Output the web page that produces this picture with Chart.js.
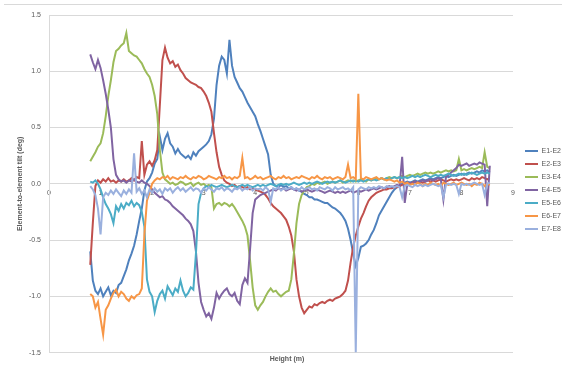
<!DOCTYPE html>
<html><head><meta charset="utf-8">
<script src="https://cdn.jsdelivr.net/npm/chart.js@4"></script>
<style>
html,body{margin:0;padding:0;background:#fff}
#wrap{position:relative;width:562px;height:369px}
#edge{position:absolute;left:4px;right:0;top:4px;border-top:1px solid #d9d9d9}
</style>
</head><body>
<div id="wrap"><div id="edge"></div><canvas id="c"></canvas></div>
<script>
// Height (m) of each sample
const heights = [
0.80,0.85,0.90,0.95,1.00,1.05,1.10,1.15,1.20,1.25,
1.30,1.35,1.40,1.45,1.50,1.55,1.60,1.65,1.70,1.75,
1.80,1.85,1.90,1.95,2.00,2.05,2.10,2.15,2.20,2.25,
2.30,2.35,2.40,2.45,2.50,2.55,2.60,2.65,2.70,2.75,
2.80,2.85,2.90,2.95,3.00,3.05,3.10,3.15,3.20,3.25,
3.30,3.35,3.40,3.45,3.50,3.55,3.60,3.65,3.70,3.75,
3.80,3.85,3.90,3.95,4.00,4.05,4.10,4.15,4.20,4.25,
4.30,4.35,4.40,4.45,4.50,4.55,4.60,4.65,4.70,4.75,
4.80,4.85,4.90,4.95,5.00,5.05,5.10,5.15,5.20,5.25,
5.30,5.35,5.40,5.45,5.50,5.55,5.60,5.65,5.70,5.75,
5.80,5.85,5.90,5.95,6.00,6.05,6.10,6.15,6.20,6.25,
6.30,6.35,6.40,6.45,6.50,6.55,6.60,6.65,6.70,6.75,
6.80,6.85,6.90,6.95,7.00,7.05,7.10,7.15,7.20,7.25,
7.30,7.35,7.40,7.45,7.50,7.55,7.60,7.65,7.70,7.75,
7.80,7.85,7.90,7.95,8.00,8.05,8.10,8.15,8.20,8.25,
8.30,8.35,8.40,8.45,8.50,8.55];

const seriesNames = ['E1-E2','E2-E3','E3-E4','E4-E5','E5-E6','E6-E7','E7-E8'];

const tiltE1E2 = [
-0.60,-0.86,-0.95,-0.98,-0.93,-1.00,-0.96,-0.92,-0.99,-0.95,
-0.97,-0.90,-0.88,-0.82,-0.76,-0.68,-0.62,-0.55,-0.45,-0.33,
-0.22,-0.06,0.02,0.05,0.10,0.18,0.22,0.42,0.30,0.40,
0.45,0.36,0.33,0.27,0.31,0.27,0.25,0.23,0.25,0.22,
0.28,0.25,0.29,0.31,0.33,0.35,0.38,0.44,0.58,0.88,
1.05,1.13,1.10,0.98,1.28,1.05,0.95,0.90,0.85,0.82,
0.77,0.72,0.68,0.64,0.60,0.53,0.47,0.40,0.33,0.26,
0.08,0.00,-0.02,-0.03,-0.01,-0.03,-0.02,-0.04,-0.03,-0.05,
-0.04,-0.06,-0.07,-0.09,-0.10,-0.12,-0.12,-0.14,-0.14,-0.15,
-0.16,-0.17,-0.17,-0.19,-0.21,-0.22,-0.24,-0.26,-0.29,-0.33,
-0.40,-0.50,-0.62,-0.73,-0.66,-0.56,-0.55,-0.53,-0.50,-0.45,
-0.41,-0.35,-0.28,-0.24,-0.20,-0.16,-0.12,-0.08,-0.05,-0.03,
-0.02,0.00,0.01,0.02,0.01,0.02,0.03,0.02,0.03,0.04,
0.03,0.04,0.05,0.04,0.05,0.06,0.05,0.06,0.07,0.06,
0.07,0.08,0.07,0.08,0.09,0.08,0.09,0.10,0.09,0.10,
0.11,0.10,0.12,0.11,0.12,0.10];

const tiltE2E3 = [
-0.72,-0.35,-0.02,0.03,0.01,0.04,0.02,0.05,0.02,0.03,
0.01,0.03,0.02,0.04,0.02,0.03,0.05,0.03,0.06,0.05,
0.38,0.08,0.17,0.20,0.16,0.21,0.30,0.70,1.10,1.21,
1.12,1.07,1.09,1.04,1.06,1.01,0.98,0.94,0.92,0.90,
0.89,0.88,0.86,0.85,0.82,0.78,0.72,0.64,0.45,0.28,
0.15,0.08,0.03,0.01,0.00,-0.02,-0.01,-0.03,-0.02,-0.03,
-0.04,-0.03,-0.05,-0.04,-0.05,-0.06,-0.07,-0.08,-0.10,-0.13,
-0.17,-0.20,-0.22,-0.24,-0.26,-0.29,-0.32,-0.38,-0.46,-0.60,
-0.85,-1.00,-1.10,-1.15,-1.12,-1.09,-1.10,-1.07,-1.08,-1.06,
-1.05,-1.06,-1.04,-1.03,-1.04,-1.02,-1.01,-1.00,-0.98,-0.95,
-0.86,-0.70,-0.56,-0.46,-0.38,-0.31,-0.26,-0.20,-0.15,-0.12,
-0.10,-0.08,-0.07,-0.06,-0.05,-0.05,-0.04,-0.04,-0.03,-0.03,
-0.02,-0.01,0.00,0.01,0.00,0.01,0.02,0.01,0.02,0.01,
0.02,0.03,0.02,0.03,0.02,0.03,0.04,0.03,0.02,0.03,
0.04,0.03,0.04,0.03,0.04,0.05,0.04,0.03,0.05,0.04,
0.05,0.04,0.06,0.05,0.04,0.05];

const tiltE3E4 = [
0.20,0.24,0.28,0.33,0.36,0.45,0.60,0.78,0.92,1.08,
1.18,1.20,1.23,1.25,1.34,1.18,1.16,1.14,1.13,1.10,
1.07,1.02,0.98,0.95,0.88,0.78,0.62,0.30,0.10,0.04,
0.02,0.00,0.01,-0.01,0.00,0.02,0.01,-0.01,0.00,0.01,
-0.02,0.00,0.01,-0.01,0.00,-0.02,-0.01,-0.03,-0.22,-0.18,
-0.17,-0.19,-0.17,-0.18,-0.20,-0.18,-0.21,-0.25,-0.29,-0.33,
-0.38,-0.46,-0.68,-0.92,-1.08,-1.12,-1.08,-1.05,-1.00,-0.96,
-0.93,-0.96,-0.95,-0.98,-1.00,-0.98,-0.96,-0.95,-0.85,-0.62,
-0.35,-0.18,-0.10,-0.06,-0.03,-0.02,0.00,-0.01,0.01,0.00,
0.01,0.02,0.00,0.01,0.02,0.01,0.02,0.03,0.01,0.02,
0.03,0.02,0.03,0.02,0.03,0.04,0.03,0.02,0.04,0.03,
0.04,0.05,0.04,0.05,0.04,0.05,0.06,0.05,0.06,0.05,
0.06,0.07,0.06,0.07,0.08,0.07,0.08,0.09,0.08,0.09,
0.10,0.09,0.10,0.09,0.10,0.11,0.10,0.11,0.12,0.11,
0.12,0.11,0.12,0.22,0.12,0.13,0.12,0.13,0.14,0.13,
0.14,0.15,0.14,0.28,0.15,0.14];

const tiltE4E5 = [
1.15,1.08,1.02,1.10,1.03,0.92,0.80,0.66,0.50,0.22,
0.08,0.04,0.02,0.03,0.01,0.03,0.02,0.04,0.02,0.01,
0.03,0.01,0.00,-0.02,-0.05,-0.08,-0.10,-0.12,-0.11,-0.14,
-0.15,-0.17,-0.20,-0.22,-0.24,-0.26,-0.28,-0.31,-0.33,-0.36,
-0.42,-0.60,-0.88,-1.05,-1.12,-1.18,-1.15,-1.20,-1.10,-0.97,
-1.02,-0.98,-0.95,-0.93,-0.98,-1.00,-0.97,-1.04,-1.07,-0.90,
-0.84,-0.88,-0.58,-0.26,-0.14,-0.12,-0.10,-0.09,-0.08,-0.07,
-0.06,-0.05,-0.06,-0.04,-0.05,-0.04,-0.06,-0.05,-0.04,-0.05,
-0.06,-0.05,-0.07,-0.06,-0.05,-0.06,-0.07,-0.06,-0.05,-0.06,
-0.07,-0.08,-0.07,-0.06,-0.07,-0.08,-0.07,-0.08,-0.07,-0.08,
-0.07,-0.06,-0.08,-0.07,-0.06,-0.07,-0.06,-0.05,-0.06,-0.05,
-0.04,-0.05,-0.04,-0.03,-0.04,-0.03,-0.02,-0.03,-0.02,-0.01,
-0.02,0.24,-0.17,0.00,0.01,0.00,0.02,0.01,0.02,0.03,
0.02,0.03,0.04,0.03,0.04,0.05,0.04,-0.14,0.06,0.08,
0.10,0.12,0.14,0.17,0.16,0.17,0.18,0.16,0.17,0.18,
0.17,0.19,0.18,0.17,-0.20,0.16];

const tiltE5E6 = [
0.02,0.01,0.03,0.00,-0.05,-0.12,-0.18,-0.22,-0.27,-0.35,
-0.20,-0.24,-0.18,-0.22,-0.17,-0.19,-0.15,-0.20,-0.17,-0.19,
-0.25,-0.38,-0.85,-0.96,-1.00,-1.14,-1.04,-0.98,-0.95,-1.02,
-0.91,-0.95,-0.99,-0.93,-0.96,-0.86,-0.95,-1.00,-0.97,-0.92,
-0.94,-0.62,-0.18,-0.08,-0.04,-0.02,-0.03,-0.01,-0.02,-0.03,
-0.02,-0.01,-0.02,-0.03,-0.02,-0.01,-0.02,-0.03,-0.02,-0.01,
-0.02,-0.01,-0.02,-0.03,-0.02,-0.01,-0.02,-0.01,-0.02,-0.01,
0.00,-0.01,-0.02,-0.01,0.00,-0.01,0.00,-0.01,0.00,0.01,
0.00,-0.01,0.00,0.01,0.00,0.01,0.00,0.01,0.02,0.01,
0.00,0.01,0.02,0.01,0.02,0.01,0.02,0.03,0.02,0.01,
0.02,0.03,0.02,0.03,0.02,0.03,0.02,0.03,0.04,0.03,
0.04,0.03,0.04,0.05,0.04,0.05,0.04,0.05,0.06,0.05,
0.06,0.05,0.06,0.05,0.06,0.07,0.06,0.07,0.06,0.07,
0.08,0.07,0.06,0.07,0.08,0.07,0.08,0.07,0.08,0.09,
0.08,0.07,0.08,0.09,0.08,0.09,0.08,0.09,0.10,0.09,
0.08,0.09,0.10,0.09,0.10,0.09];

const tiltE6E7 = [
-0.98,-1.00,-1.10,-1.05,-1.20,-1.34,-1.12,-1.08,-1.02,-0.97,
-0.94,-1.00,-0.96,-0.98,-1.02,-1.04,-1.00,-1.02,-0.99,-0.98,
-0.93,-0.45,-0.15,-0.08,0.00,0.03,0.05,0.04,0.06,0.05,
0.07,0.04,0.06,0.05,0.04,0.06,0.05,0.07,0.05,0.04,
0.06,0.05,0.07,0.06,0.04,0.05,0.07,0.06,0.05,0.04,
0.06,0.05,0.07,0.05,0.06,0.04,0.06,0.05,0.07,0.23,
0.05,0.06,0.04,0.05,0.07,0.05,0.06,0.04,0.05,0.06,
0.07,0.05,0.04,0.06,0.05,0.07,0.05,0.06,0.04,0.05,
0.06,0.05,0.07,0.06,0.05,0.04,0.06,0.05,0.07,0.05,
0.04,0.06,0.05,0.06,0.04,0.05,0.06,0.05,0.04,0.06,
0.17,0.05,0.06,0.04,0.80,0.05,0.04,0.06,0.05,0.04,
0.05,0.06,0.04,0.05,0.04,0.03,0.04,0.03,0.02,0.03,
0.01,0.02,0.00,0.01,-0.01,0.00,-0.01,0.01,0.00,-0.02,
0.00,-0.01,0.01,0.00,-0.01,0.00,-0.02,0.01,0.00,-0.01,
0.00,0.01,-0.01,0.00,0.01,0.00,-0.01,0.00,-0.02,0.00,
-0.01,0.01,0.00,-0.02,0.00,-0.01];

const tiltE7E8 = [
-0.02,-0.05,-0.10,-0.22,-0.45,-0.12,-0.08,-0.10,-0.06,-0.09,
-0.05,-0.08,-0.11,-0.06,-0.09,-0.05,-0.08,0.27,-0.07,-0.04,
-0.09,-0.06,-0.12,-0.05,-0.08,-0.04,-0.07,-0.05,-0.09,-0.04,
-0.06,-0.04,-0.08,-0.05,-0.03,-0.06,-0.04,-0.07,-0.05,-0.03,
-0.06,-0.04,-0.05,-0.08,-0.04,-0.06,-0.03,-0.05,-0.07,-0.04,
-0.05,-0.03,-0.06,-0.04,-0.05,-0.07,-0.04,-0.05,-0.03,-0.06,
-0.04,-0.05,-0.03,-0.06,-0.04,-0.05,-0.04,-0.06,-0.03,-0.05,
-0.16,-0.04,-0.05,-0.03,-0.06,-0.04,-0.05,-0.04,-0.03,-0.05,
-0.04,-0.06,-0.03,-0.05,-0.04,-0.03,-0.05,-0.04,-0.06,-0.03,
-0.04,-0.05,-0.03,-0.04,-0.06,-0.03,-0.05,-0.04,-0.03,-0.05,
-0.04,-0.06,-0.03,-1.50,-0.05,-0.03,-0.04,-0.05,-0.03,-0.04,
-0.03,-0.04,-0.02,-0.03,-0.04,-0.02,-0.03,-0.02,-0.03,-0.02,
-0.03,-0.12,-0.02,-0.01,-0.02,-0.03,-0.01,-0.02,-0.01,-0.02,
-0.01,-0.02,-0.01,0.00,-0.01,-0.02,-0.01,-0.12,-0.01,0.00,
-0.01,0.00,-0.01,-0.09,0.00,-0.01,0.00,-0.01,0.00,0.01,
0.00,-0.01,0.00,-0.10,0.00,0.01];

const seriesValues = [tiltE1E2, tiltE2E3, tiltE3E4, tiltE4E5, tiltE5E6, tiltE6E7, tiltE7E8];
const yTicks = [-1.5, -1.0, -0.5, 0.0, 0.5, 1.0, 1.5];
const xTicks = [0,1,2,3,4,5,6,7,8,9];

const seriesColors = ['#4F81BD','#C0504D','#9BBB59','#8064A2','#4BACC6','#F79646','#9AB0DE'];
const textColor = '#595959';
const fontFamily = '"Liberation Sans", Arial, sans-serif';

const datasets = seriesNames.map((name, k) => ({
  label: name,
  data: heights.map((h, i) => ({ x: h, y: seriesValues[k][i] })),
  borderColor: seriesColors[k],
  backgroundColor: seriesColors[k],
  borderWidth: 2,
  pointRadius: 0,
  pointHoverRadius: 0,
  pointStyle: 'line',
  tension: 0,
  fill: false,
  order: seriesNames.length - 1 - k
}));

const legendNudge = {
  id: 'legendNudge',
  afterLayout(chart) {
    const l = chart.legend;
    if (l) { l.left += 6; l.right += 6; }
  }
};

new Chart(document.getElementById('c'), {
  type: 'line',
  data: { datasets },
  plugins: [legendNudge],
  options: {
    responsive: true,
    maintainAspectRatio: false,
    animation: false,
    events: [],
    layout: { padding: { left: 12, top: 15, right: 0, bottom: 4 } },
    scales: {
      x: {
        type: 'linear',
        position: { y: 0 },
        min: xTicks[0],
        max: xTicks[xTicks.length - 1],
        afterBuildTicks: (s) => { s.ticks = xTicks.map(v => ({ value: v })); },
        ticks: { color: textColor, font: { family: fontFamily, size: 7 }, padding: 0, maxRotation: 0, autoSkip: false },
        grid: { display: false, drawTicks: true, tickLength: 5 },
        border: { display: true, color: '#d9d9d9', width: 1 }
      },
      y: {
        position: 'left',
        min: yTicks[0],
        max: yTicks[yTicks.length - 1],
        afterBuildTicks: (s) => { s.ticks = yTicks.map(v => ({ value: v })); },
        afterFit: (s) => { s.width = 37; },
        ticks: { color: textColor, font: { family: fontFamily, size: 7 }, padding: 8, callback: (v) => Number(v).toFixed(1) },
        grid: { color: '#d9d9d9', lineWidth: 1, drawTicks: false },
        border: { display: true, color: '#d9d9d9', width: 1 },
        title: { display: true, text: 'Element-to-element tilt (deg)', color: textColor, font: { family: fontFamily, size: 7, weight: 'bold' }, padding: { top: 4, bottom: 4 } }
      }
    },
    plugins: {
      legend: {
        position: 'right',
        maxWidth: 49,
        labels: {
          usePointStyle: true,
          pointStyle: 'line',
          pointStyleWidth: 13,
          boxHeight: 7,
          padding: 6,
          color: textColor,
          font: { family: fontFamily, size: 7 },
          sort: (a, b) => a.datasetIndex - b.datasetIndex
        }
      },
      title: {
        display: true,
        position: 'bottom',
        text: 'Height (m)',
        color: textColor,
        font: { family: fontFamily, size: 7, weight: 'bold' },
        padding: { top: 2, bottom: 2 }
      },
      tooltip: { enabled: false }
    }
  }
});
</script>
</body></html>
